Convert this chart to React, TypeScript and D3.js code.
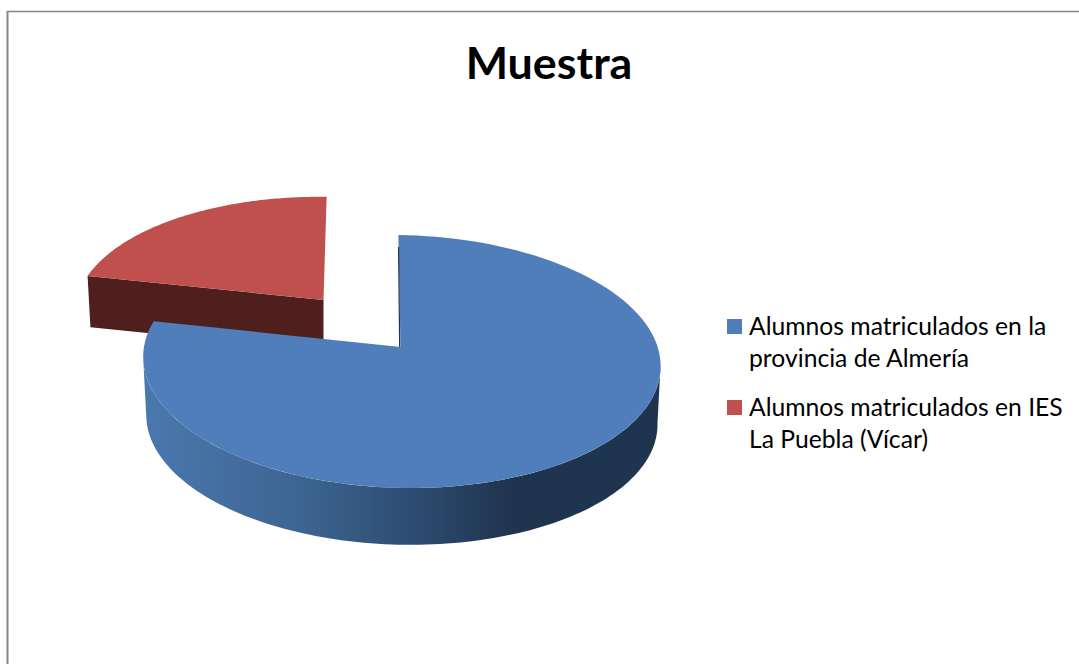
import React from "react";
import * as d3 from "d3";

const categories = ["Alumnos matriculados en la provincia de Almería", "Alumnos matriculados en IES La Puebla (Vícar)"];
const legendLines = [
  ["Alumnos matriculados en la", "provincia de Almería"],
  ["Alumnos matriculados en IES", "La Puebla (Vícar)"],
];
const values = [78, 22];
const topColors = ["#4f7eba", "#bf504d"];

const width = 1079;
const height = 664;

// perspective of the tilted pie, slices are exploded so each has its own centre
const persp = 0.1146;
const roll = 3;
const bottomScale = 0.988;
const sliceLayout = [
  { cx: 401.5, cy: 347, rx: 257, ry: 124.8, depth: 58.5, skew: 3.5 },
  { cx: 323.5, cy: 300, rx: 246, ry: 115, depth: 51, skew: -3.5 },
];

type Layout = (typeof sliceLayout)[number];

const project = (s: Layout, angle: number, k = 1, dy = 0): [number, number] => {
  const u = Math.sin(angle);
  const v = -Math.cos(angle);
  const w = 1 - persp * v;
  return [
    s.cx + (k * (s.rx * u + s.skew * v)) / w,
    s.cy + dy + k * ((s.ry * v) / w + roll * u),
  ];
};

const arcPoints = (s: Layout, a0: number, a1: number, k = 1, dy = 0) =>
  d3.range(0, 121).map((i) => project(s, a0 + ((a1 - a0) * i) / 120, k, dy));

const line = d3.line();

export default function App() {
  const arcs = d3.pie<number>().sort(null)(values);
  const blue = arcs[0];
  const red = arcs[1];
  const bs = sliceLayout[0];
  const rs = sliceLayout[1];

  const blueTop =
    line([[bs.cx - 1, bs.cy], ...arcPoints(bs, blue.startAngle, blue.endAngle)]) + "Z";
  const redTop =
    line([[rs.cx, rs.cy], ...arcPoints(rs, red.startAngle, red.endAngle)]) + "Z";

  // outer wall of the big slice, from one widest point of the ellipse to the other
  const wallA0 = Math.acos(-persp);
  const wallA1 = 2 * Math.PI - wallA0;
  const blueWall =
    line([
      ...arcPoints(bs, wallA0, wallA1),
      ...arcPoints(bs, wallA1, wallA0, bottomScale, bs.depth),
    ]) + "Z";

  // cut face of the small slice
  const redWall =
    line([
      project(rs, red.startAngle),
      [rs.cx, rs.cy],
      [rs.cx, rs.cy + rs.depth],
      project(rs, red.startAngle, bottomScale, rs.depth),
    ]) + "Z";

  const edgeTop = project(bs, 0);

  return (
    <svg
      width={width}
      height={height}
      style={{ position: "absolute", left: 0, top: 0, display: "block" }}
      fontFamily="Lato, sans-serif"
    >
      <defs>
        <linearGradient id="wallGrad" gradientUnits="userSpaceOnUse" x1={146} x2={657} y1={0} y2={0}>
          <stop offset="0" stopColor="#4a78ad" />
          <stop offset="0.3" stopColor="#3d6592" />
          <stop offset="0.5" stopColor="#2f4f75" />
          <stop offset="0.71" stopColor="#1f344f" />
          <stop offset="1" stopColor="#1f344f" />
        </linearGradient>
      </defs>
      <rect width={width} height={height} fill="#fff" />
      <path d="M1079 11.5H7" fill="none" stroke="#868686" strokeWidth={1.3} />
      <path d="M7.5 11V664" fill="none" stroke="#868686" strokeWidth={2} />

      <text x={549} y={79} textAnchor="middle" fontSize={44.8} fontWeight={700} fill="#000">
        Muestra
      </text>

      <path d={redWall} fill="#4f1f1e" />
      <path d={redTop} fill={topColors[1]} />
      <path d={blueWall} fill="url(#wallGrad)" />
      <path d={blueTop} fill={topColors[0]} />
      <line
        x1={edgeTop[0] + 0.2}
        y1={edgeTop[1] + 12}
        x2={bs.cx - 1.8}
        y2={bs.cy}
        stroke="#1f344f"
        strokeWidth={1.2}
      />

      <g fontSize={24.7} fill="#000">
        {categories.map((c, i) => (
          <g key={c} transform={`translate(0,${i * 81})`}>
            <rect x={727} y={319} width={15} height={15} fill={topColors[i]} />
            {legendLines[i].map((t, j) => (
              <text key={t} x={749} y={335 + j * 32}>
                {t}
              </text>
            ))}
          </g>
        ))}
      </g>
    </svg>
  );
}
